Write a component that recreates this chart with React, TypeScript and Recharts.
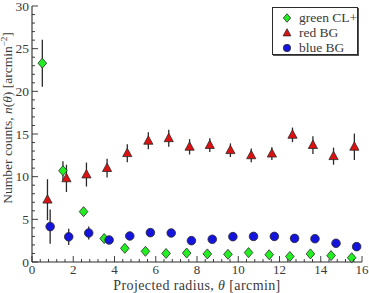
import React from 'react';
import { ScatterChart, Scatter, XAxis, YAxis, ErrorBar, Legend } from 'recharts';

// Radial number-count profiles, one entry per radial bin
const greenX = [0.5, 1.5, 2.5, 3.5, 4.5, 5.5, 6.5, 7.5, 8.5, 9.5, 10.5, 11.5, 12.5, 13.5, 14.5, 15.5];
const greenY = [23.3, 10.7, 5.9, 2.75, 1.6, 1.25, 1.0, 1.05, 0.95, 0.9, 1.1, 0.85, 0.65, 0.95, 0.75, 0.5];
const greenErr = [2.75, 1.1, 0.5, 0.4, 0.3, 0.3, 0.25, 0.25, 0.25, 0.25, 0.25, 0.25, 0.2, 0.25, 0.2, 0.2];

const redX = [0.75, 1.67, 2.64, 3.64, 4.62, 5.64, 6.63, 7.64, 8.62, 9.62, 10.63, 11.63, 12.63, 13.62, 14.62, 15.63];
const redY = [7.3, 9.8, 10.25, 11.0, 12.75, 14.2, 14.5, 13.5, 13.7, 13.1, 12.5, 12.7, 14.9, 13.7, 12.4, 13.5];
const redErr = [2.4, 1.6, 1.4, 1.1, 1.05, 1.0, 1.0, 0.9, 0.8, 0.8, 0.8, 0.75, 0.85, 1.05, 1.0, 1.55];

const blueX = [0.88, 1.78, 2.75, 3.74, 4.74, 5.74, 6.75, 7.73, 8.74, 9.74, 10.74, 11.75, 12.73, 13.72, 14.74, 15.74];
const blueY = [4.15, 2.95, 3.4, 2.58, 3.05, 3.44, 3.4, 2.5, 2.66, 2.97, 3.0, 3.0, 2.77, 2.73, 2.19, 1.8];
const blueErr = [2.0, 0.95, 0.75, 0.4, 0.35, 0.35, 0.35, 0.35, 0.35, 0.35, 0.35, 0.35, 0.35, 0.35, 0.35, 0.35];

const seriesNames = ['green CL+', 'red BG', 'blue BG'];

// Axis ticks: labelled majors plus unlabelled minors
const xTicks = [
  0, 0.4, 0.8, 1.2, 1.6, 2, 2.4, 2.8, 3.2, 3.6, 4, 4.4, 4.8, 5.2, 5.6, 6, 6.4, 6.8, 7.2, 7.6, 8,
  8.4, 8.8, 9.2, 9.6, 10, 10.4, 10.8, 11.2, 11.6, 12, 12.4, 12.8, 13.2, 13.6, 14, 14.4, 14.8, 15.2, 15.6, 16,
];
const xMajor = [0, 2, 4, 6, 8, 10, 12, 14, 16];
const yTicks = [
  0, 1, 2, 3, 4, 5, 6, 7, 8, 9, 10, 11, 12, 13, 14, 15, 16, 17, 18, 19, 20,
  21, 22, 23, 24, 25, 26, 27, 28, 29, 30,
];
const yMajor = [0, 5, 10, 15, 20, 25, 30];

const FONT = '"Liberation Serif", "Times New Roman", serif';
const INK = '#2a2a2a';
const TEXT = '#3a3a3a';
const GREEN = '#22ee22';
const RED = '#dd1111';
const BLUE = '#1414dd';

const toRows = (xs: number[], ys: number[], es: number[]) =>
  xs.map((x, i) => ({ x, y: ys[i], err: es[i] }));

const greenRows = toRows(greenX, greenY, greenErr);
const redRows = toRows(redX, redY, redErr);
const blueRows = toRows(blueX, blueY, blueErr);

const isMajor = (list: number[], v: number) => list.some((m) => Math.abs(m - v) < 1e-6);

const DiamondMark = ({ cx, cy, s = 1 }: any) => (
  <polygon
    points={`${cx},${cy - 5 * s} ${cx + 4.3 * s},${cy} ${cx},${cy + 5 * s} ${cx - 4.3 * s},${cy}`}
    fill={GREEN}
    stroke={INK}
    strokeWidth={0.8}
  />
);

const TriangleMark = ({ cx, cy, s = 1 }: any) => (
  <polygon
    points={`${cx},${cy - 5 * s} ${cx + 4.6 * s},${cy + 3.4 * s} ${cx - 4.6 * s},${cy + 3.4 * s}`}
    fill={RED}
    stroke={INK}
    strokeWidth={0.8}
  />
);

const CircleMark = ({ cx, cy, s = 1 }: any) => (
  <circle cx={cx} cy={cy} r={4.3 * s} fill={BLUE} stroke={INK} strokeWidth={0.8} />
);

const marks = [DiamondMark, TriangleMark, CircleMark];

const BottomTick = ({ x, y, payload }: any) => {
  const major = isMajor(xMajor, payload.value);
  return (
    <g>
      <line x1={x} x2={x} y1={y} y2={y - (major ? 6 : 3)} stroke={INK} strokeWidth={0.9} />
      {major && (
        <text x={x} y={y + 12} textAnchor="middle" fontFamily={FONT} fontSize={13} fill={TEXT}>
          {payload.value}
        </text>
      )}
    </g>
  );
};

const TopTick = ({ x, y, payload }: any) => {
  const major = isMajor(xMajor, payload.value);
  return <line x1={x} x2={x} y1={y} y2={y + (major ? 6 : 3)} stroke={INK} strokeWidth={0.9} />;
};

const LeftTick = ({ x, y, payload }: any) => {
  const major = isMajor(yMajor, payload.value);
  return (
    <g>
      <line x1={x} x2={x + (major ? 6 : 3)} y1={y} y2={y} stroke={INK} strokeWidth={0.9} />
      {major && (
        <text x={x - 3} y={y + 4.5} textAnchor="end" fontFamily={FONT} fontSize={13.5} fill={TEXT}>
          {payload.value}
        </text>
      )}
    </g>
  );
};

const RightTick = ({ x, y, payload }: any) => {
  const major = isMajor(yMajor, payload.value);
  return <line x1={x} x2={x - (major ? 6 : 3)} y1={y} y2={y} stroke={INK} strokeWidth={0.9} />;
};

const XTitle = ({ viewBox }: any) => {
  const vb = viewBox || { x: 32, y: 262, width: 330, height: 31 };
  return (
    <text
      x={vb.x + vb.width / 2}
      y={vb.y + 28}
      textAnchor="middle"
      fontFamily={FONT}
      fontSize={14}
      letterSpacing={0.4}
      fill={TEXT}
    >
      Projected radius, <tspan fontStyle="italic">θ</tspan> [arcmin]
    </text>
  );
};

const YTitle = ({ viewBox }: any) => {
  const vb = viewBox || { x: 0, y: 6, width: 32, height: 256 };
  const cx = vb.x + 12;
  const cy = vb.y + vb.height / 2 - 16;
  return (
    <text
      x={cx}
      y={cy}
      transform={`rotate(-90 ${cx} ${cy})`}
      textAnchor="middle"
      fontFamily={FONT}
      fontSize={13.5}
      fill={TEXT}
    >
      Number counts, <tspan fontStyle="italic">n</tspan>(<tspan fontStyle="italic">θ</tspan>) [arcmin
      <tspan fontSize={9} dy={-5}>−2</tspan>
      <tspan dy={5}>]</tspan>
    </text>
  );
};

const LegendBox = () => (
  <div
    style={{
      width: 86,
      height: 48,
      boxSizing: 'border-box',
      border: `1px solid ${INK}`,
      boxShadow: '1px 1px 0 #555',
      background: '#fff',
      paddingTop: 2,
    }}
  >
    {seriesNames.map((name, i) => {
      const Mark = marks[i];
      return (
        <div key={name} style={{ display: 'flex', alignItems: 'center', height: 15, whiteSpace: 'nowrap' }}>
          <svg width={22} height={14} style={{ flex: 'none' }}>
            <Mark cx={14} cy={7} s={0.85} />
          </svg>
          <span style={{ fontFamily: FONT, fontSize: 13.5, color: TEXT, marginLeft: 4, lineHeight: '15px' }}>
            {name}
          </span>
        </div>
      );
    })}
  </div>
);

export default function App() {
  return (
    <div style={{ position: 'absolute', left: 0, top: 0, width: 369, height: 293, background: '#fff' }}>
      <ScatterChart width={369} height={293} margin={{ top: 6, right: 7, bottom: 0, left: 0 }}>
        <XAxis
          xAxisId="bottom"
          dataKey="x"
          type="number"
          domain={[0, 16]}
          ticks={xTicks}
          interval={0}
          height={31}
          tickSize={0}
          tickMargin={0}
          tickLine={false}
          axisLine={{ stroke: INK, strokeWidth: 1.1 }}
          tick={BottomTick}
          label={<XTitle />}
        />
        <XAxis
          xAxisId="top"
          orientation="top"
          dataKey="x"
          type="number"
          domain={[0, 16]}
          ticks={xTicks}
          interval={0}
          height={0}
          tickSize={0}
          tickMargin={0}
          tickLine={false}
          axisLine={{ stroke: INK, strokeWidth: 1.1 }}
          tick={TopTick}
        />
        <YAxis
          yAxisId="left"
          dataKey="y"
          type="number"
          domain={[0, 30]}
          ticks={yTicks}
          interval={0}
          width={32}
          tickSize={0}
          tickMargin={0}
          tickLine={false}
          axisLine={{ stroke: INK, strokeWidth: 1.1 }}
          tick={LeftTick}
          label={<YTitle />}
        />
        <YAxis
          yAxisId="right"
          orientation="right"
          dataKey="y"
          type="number"
          domain={[0, 30]}
          ticks={yTicks}
          interval={0}
          width={0}
          tickSize={0}
          tickMargin={0}
          tickLine={false}
          axisLine={{ stroke: INK, strokeWidth: 1.1 }}
          tick={RightTick}
        />
        <Scatter
          name={seriesNames[0]}
          data={greenRows}
          xAxisId="bottom"
          yAxisId="left"
          shape={DiamondMark}
          isAnimationActive={false}
        >
          <ErrorBar dataKey="err" direction="y" width={0} stroke={INK} strokeWidth={1.3} />
        </Scatter>
        <Scatter
          name={seriesNames[1]}
          data={redRows}
          xAxisId="bottom"
          yAxisId="left"
          shape={TriangleMark}
          isAnimationActive={false}
        >
          <ErrorBar dataKey="err" direction="y" width={0} stroke={INK} strokeWidth={1.3} />
        </Scatter>
        <Scatter
          name={seriesNames[2]}
          data={blueRows}
          xAxisId="bottom"
          yAxisId="left"
          shape={CircleMark}
          isAnimationActive={false}
        >
          <ErrorBar dataKey="err" direction="y" width={0} stroke={INK} strokeWidth={1.3} />
        </Scatter>
        <Legend
          layout="vertical"
          align="center"
          verticalAlign="middle"
          wrapperStyle={{ left: 272, top: 7, width: 86, height: 48 }}
          content={<LegendBox />}
        />
      </ScatterChart>
    </div>
  );
}
